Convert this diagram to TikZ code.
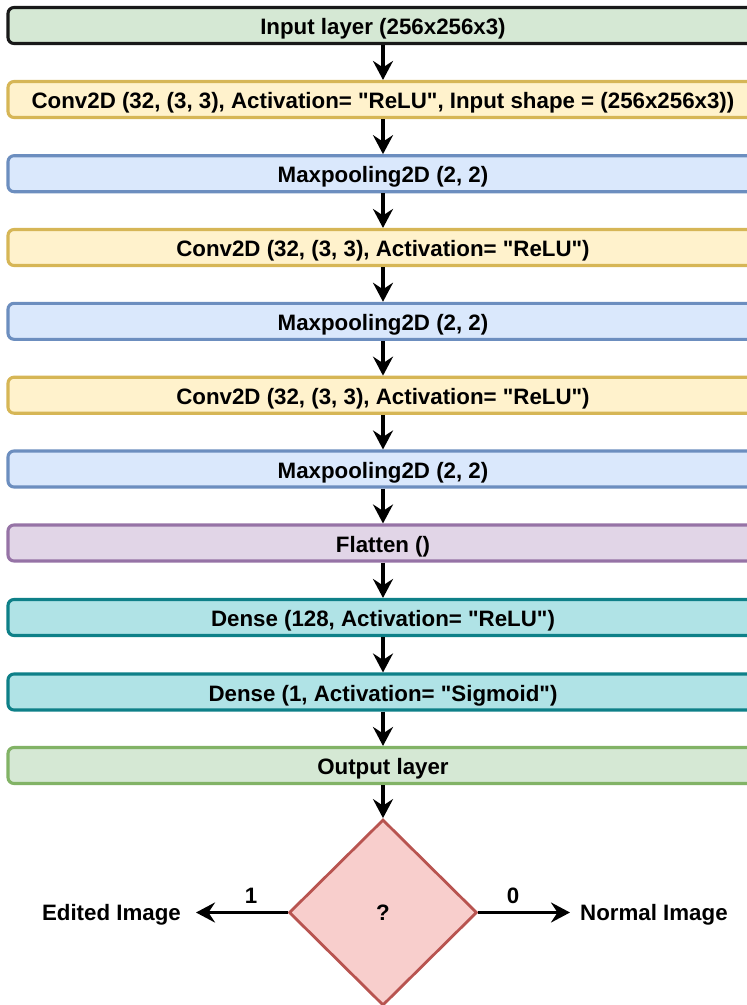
\documentclass[tikz,border=0pt]{standalone}
\usepackage{fontspec}
\setmainfont{Liberation Sans}[Ligatures=TeXOff]
\usetikzlibrary{arrows.meta,shapes.geometric}
\definecolor{gfill}{HTML}{D5E8D4}\definecolor{gdraw}{HTML}{82B366}
\definecolor{yfill}{HTML}{FFF2CC}\definecolor{ydraw}{HTML}{D6B656}
\definecolor{bfill}{HTML}{DAE8FC}\definecolor{bdraw}{HTML}{6C8EBF}
\definecolor{pfill}{HTML}{E1D5E7}\definecolor{pdraw}{HTML}{9673A6}
\definecolor{tfill}{HTML}{B0E3E6}\definecolor{tdraw}{HTML}{0E8088}
\definecolor{rfill}{HTML}{F8CECC}\definecolor{rdraw}{HTML}{B85450}
\begin{document}
\begin{tikzpicture}[x=1pt,y=-1pt,
  layer/.style={rectangle,rounded corners=6pt,line width=3.1pt,minimum width=750pt,minimum height=36pt,inner sep=0pt,text height=23.5pt,text depth=5pt,font=\fontsize{22.3}{25}\selectfont\bfseries},
  inlayer/.style={layer,fill=gfill,draw=black!90},
  outlayer/.style={layer,fill=gfill,draw=gdraw},
  convlayer/.style={layer,fill=yfill,draw=ydraw},
  poollayer/.style={layer,fill=bfill,draw=bdraw},
  flatlayer/.style={layer,fill=pfill,draw=pdraw},
  denselayer/.style={layer,fill=tfill,draw=tdraw},
  decision/.style={diamond,aspect=1,minimum width=188pt,minimum height=186pt,inner sep=0pt,fill=rfill,draw=rdraw,line width=2.8pt,text height=20pt,text depth=5pt,font=\fontsize{22.3}{25}\selectfont\bfseries},
  lbl/.style={font=\fontsize{22.3}{25}\selectfont\bfseries,inner sep=0pt},
  flow/.style={line width=3.6pt,-{Stealth[length=19pt,width=20pt,inset=6.5pt]}}
]
\useasboundingbox (0,0) rectangle (747,1005);
\node[inlayer] (in) at (383,25.5) {Input layer (256x256x3)};
\node[convlayer] (c1) at (383,99.5) {Conv2D (32, (3, 3), Activation= "ReLU", Input shape = (256x256x3))};
\node[poollayer] (p1) at (383,173.7) {Maxpooling2D (2, 2)};
\node[convlayer] (c2) at (383,247.5) {Conv2D (32, (3, 3), Activation= "ReLU")};
\node[poollayer] (p2) at (383,321.3) {Maxpooling2D (2, 2)};
\node[convlayer] (c3) at (383,395.2) {Conv2D (32, (3, 3), Activation= "ReLU")};
\node[poollayer] (p3) at (383,469) {Maxpooling2D (2, 2)};
\node[flatlayer] (fl) at (383,543) {Flatten ()};
\node[denselayer] (d1) at (383,617.5) {Dense (128, Activation= "ReLU")};
\node[denselayer] (d2) at (383,692) {Dense (1, Activation= "Sigmoid")};
\node[outlayer] (out) at (383,765.5) {Output layer};
\node[decision] (q) at (383,912.5) {?};
\coordinate (le) at (196,912.5);
\coordinate (re) at (570,912.5);
\node[lbl,anchor=east] (ed) at (181,915) {Edited Image};
\node[lbl,anchor=west] (nm) at (580,915) {Normal Image};
\node[lbl] (one) at (251,896) {1};
\node[lbl] (zero) at (513,896) {0};
\foreach \a/\b in {in/c1,c1/p1,p1/c2,c2/p2,p2/c3,c3/p3,p3/fl,fl/d1,d1/d2,d2/out,out/q}
  \draw[flow] (\a.south) -- (\b.north);
\draw[flow] (q.west) -- (le);
\draw[flow] (q.east) -- (re);
\end{tikzpicture}
\end{document}
